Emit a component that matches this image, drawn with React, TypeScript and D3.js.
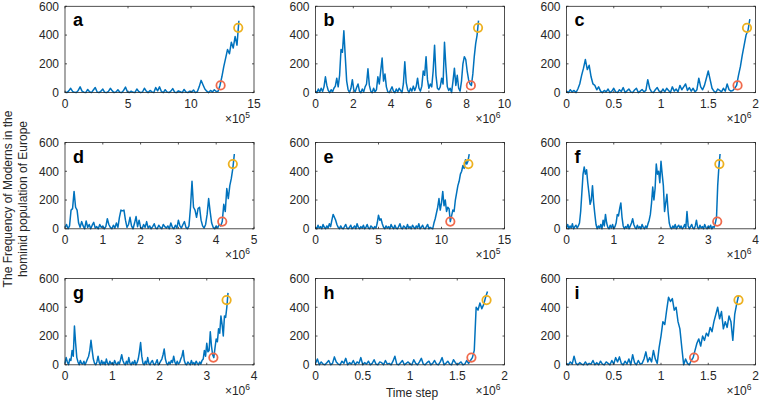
import React from "react";
import * as d3 from "d3";

const panelLetters = ["a", "b", "c", "d", "e", "f", "g", "h", "i"];
const xMaxes = [15, 10, 2, 5, 15, 4, 4, 2, 2];
const xTicks = [
  [0, 5, 10, 15],
  [0, 2, 4, 6, 8, 10],
  [0, 0.5, 1, 1.5, 2],
  [0, 1, 2, 3, 4, 5],
  [0, 5, 10, 15],
  [0, 1, 2, 3, 4],
  [0, 1, 2, 3, 4],
  [0, 0.5, 1, 1.5, 2],
  [0, 0.5, 1, 1.5, 2],
];
const exponents = [5, 6, 6, 6, 5, 6, 6, 6, 6];
const yTicks = [0, 200, 400, 600];
// time spacing between successive samples (in axis units)
const steps = [0.15, 0.075, 0.02, 0.04, 0.1, 0.025, 0.025, 0.02, 0.02];
const redX = [12.35, 8.22, 1.81, 4.16, 10.7, 3.19, 3.14, 1.65, 1.35];
const redY = 50;
const yellowX = [13.75, 8.6, 1.91, 4.44, 12.13, 3.235, 3.42, 1.81, 1.82];
const yellowY = 450;

const seriesA = [
  5, 0, 12, 30, 8, 2, 0, 15, 40, 10,
  3, 0, 22, 6, 0, 18, 35, 4, 0, 10,
  25, 2, 0, 8, 30, 12, 0, 5, 20, 3,
  0, 15, 38, 6, 0, 10, 2, 0, 25, 8,
  0, 4, 30, 10, 0, 15, 5, 0, 35, 12,
  40, 8, 0, 20, 5, 0, 10, 28, 3, 0,
  12, 6, 0, 22, 4, 0, 10, 2, 18, 0,
  6, 40, 85, 55, 25, 10, 0, 15, 5, 20,
  8, 10, 50, 110, 180, 240, 300, 270, 350, 310,
  390, 330, 500,
];
const seriesB = [
  10, 0, 25, 5, 30, 8, 40, 110, 50, 15,
  0, 20, 5, 30, 45, 100, 40, 120, 300, 280,
  430, 250, 80, 20, 0, 30, 90, 20, 5, 35,
  60, 10, 0, 25, 5, 40, 60, 165, 50, 10,
  0, 30, 5, 20, 110, 60, 150, 240, 80, 130,
  40, 5, 0, 20, 40, 10, 0, 25, 5, 30,
  15, 0, 60, 215, 70, 20, 0, 30, 10, 45,
  15, 40, 100, 30, 10, 45, 150, 120, 250, 90,
  30, 60, 40, 150, 330, 120, 30, 20, 40, 100,
  60, 350, 180, 40, 15, 30, 0, 80, 170, 50,
  120, 30, 10, 80, 200, 250, 230, 150, 90, 60,
  50, 130, 250, 340, 400, 500,
];
const seriesC = [
  10, 0, 20, 5, 15, 0, 25, 60, 120, 170,
  230, 160, 190, 110, 60, 50, 20, 40, 10, 0,
  15, 5, 25, 0, 10, 30, 5, 0, 20, 8,
  35, 0, 12, 25, 5, 0, 18, 30, 0, 10,
  22, 5, 15, 90, 30, 5, 0, 20, 35, 10,
  0, 25, 5, 30, 15, 0, 40, 10, 25, 5,
  50, 20, 40, 60, 15, 35, 10, 30, 5, 20,
  100, 40, 20, 50, 100, 150, 90, 30, 10, 0,
  25, 15, 5, 30, 10, 60, 20, 10, 15, 30,
  50, 120, 180, 260, 330, 400, 430, 510,
];
const seriesD = [
  10, 30, 0, 20, 130, 140, 260, 150, 130, 40,
  10, 50, 20, 0, 55, 10, 30, 0, 25, 45,
  5, 15, 0, 30, 10, 20, 0, 15, 70, 30,
  10, 0, 25, 5, 40, 10, 80, 130, 125, 130,
  60, 10, 30, 80, 20, 0, 40, 85, 15, 60,
  10, 0, 30, 10, 50, 5, 20, 0, 15, 35,
  5, 0, 25, 10, 0, 30, 15, 5, 20, 0,
  40, 10, 0, 25, 5, 60, 20, 5, 30, 50,
  10, 0, 20, 150, 330, 150, 130, 80, 140, 150,
  60, 20, 5, 30, 100, 210, 120, 40, 10, 0,
  20, 5, 30, 20, 50, 170, 120, 280, 210, 300,
  350, 420, 520,
];
const seriesE = [
  10, 0, 25, 5, 15, 0, 30, 10, 0, 20,
  5, 35, 15, 60, 100, 80, 60, 30, 10, 0,
  20, 5, 0, 15, 30, 5, 0, 10, 25, 0,
  8, 20, 0, 35, 10, 0, 15, 5, 25, 0,
  10, 30, 5, 0, 20, 10, 0, 15, 5, 40,
  95, 60, 70, 35, 10, 0, 20, 5, 15, 0,
  30, 10, 0, 25, 5, 0, 15, 35, 5, 0,
  20, 10, 0, 30, 5, 15, 0, 25, 10, 0,
  20, 5, 35, 0, 10, 25, 5, 0, 15, 30,
  0, 10, 5, 0, 40, 70, 110, 150, 210, 130,
  180, 260, 160, 200, 120, 150, 140, 50, 90, 130,
  120, 200, 250, 300, 330, 380, 400, 440, 420, 480,
  450, 470, 520,
];
const seriesF = [
  10, 30, 0, 20, 5, 35, 0, 15, 25, 5,
  20, 40, 120, 250, 380, 430, 380, 410, 320, 250,
  170, 200, 300, 180, 100, 30, 0, 20, 5, 30,
  0, 60, 20, 100, 40, 10, 0, 25, 5, 30,
  0, 15, 40, 100, 90, 140, 180, 80, 20, 0,
  15, 5, 30, 0, 20, 40, 70, 30, 10, 0,
  25, 5, 15, 0, 30, 10, 0, 20, 5, 35,
  60, 100, 180, 290, 200, 280, 450, 380, 400, 320,
  470, 380, 300, 120, 180, 240, 120, 40, 10, 0,
  20, 5, 30, 0, 15, 25, 5, 20, 0, 10,
  30, 5, 120, 20, 0, 15, 30, 5, 0, 20,
  60, 10, 0, 25, 5, 15, 0, 30, 10, 0,
  20, 5, 25, 0, 15, 10, 40, 80, 300, 430,
  520,
];
const seriesG = [
  10, 50, 20, 0, 40, 30, 100, 60, 270, 150,
  50, 20, 0, 30, 10, 5, 25, 0, 20, 40,
  60, 100, 170, 100, 40, 10, 0, 20, 60, 15,
  0, 30, 5, 20, 0, 40, 10, 0, 25, 5,
  15, 0, 30, 10, 0, 20, 5, 35, 70, 30,
  10, 0, 25, 5, 50, 10, 0, 20, 5, 30,
  0, 15, 40, 90, 155, 60, 10, 0, 25, 5,
  50, 10, 0, 20, 30, 5, 0, 15, 35, 0,
  10, 25, 40, 70, 110, 40, 10, 0, 20, 5,
  30, 15, 60, 20, 0, 25, 5, 15, 40, 60,
  100, 30, 5, 0, 20, 10, 0, 30, 5, 15,
  0, 25, 10, 0, 20, 5, 30, 40, 100, 60,
  150, 90, 100, 230, 130, 70, 50, 120, 180, 160,
  250, 220, 340, 280, 200, 340, 330, 400, 500,
];
const seriesH = [
  10, 40, 0, 20, 5, 0, 15, 30, 0, 10,
  55, 20, 5, 0, 25, 10, 45, 0, 15, 5,
  30, 0, 20, 10, 50, 0, 15, 5, 25, 0,
  10, 35, 5, 0, 20, 15, 0, 30, 5, 10,
  0, 25, 60, 5, 0, 15, 30, 0, 10, 20,
  5, 0, 35, 10, 0, 20, 45, 5, 0, 15,
  25, 0, 10, 30, 5, 0, 20, 50, 0, 10,
  25, 5, 0, 35, 15, 0, 10, 20, 0, 5,
  30, 10, 30, 50, 100, 400, 380, 430, 390, 420,
  470, 510,
];
const seriesI = [
  10, 0, 20, 5, 60, 10, 0, 15, 5, 0,
  20, 0, 10, 5, 30, 0, 15, 0, 25, 5,
  0, 20, 10, 0, 30, 5, 50, 20, 55, 10,
  0, 25, 5, 40, 0, 70, 15, 0, 30, 5,
  10, 40, 90, 20, 50, 20, 100, 40, 10, 120,
  200, 300, 280, 380, 470, 440, 460, 380, 400, 300,
  250, 120, 0, 40, 10, 0, 30, 50, 100, 150,
  180, 130, 200, 170, 220, 200, 260, 230, 300, 350,
  400, 320, 370, 250, 300, 260, 340, 300, 170, 350,
  420, 480,
];
const allSeries = [seriesA, seriesB, seriesC, seriesD, seriesE, seriesF, seriesG, seriesH, seriesI];

const W = 761;
const H = 402;
const colLeft = [65, 315.5, 566.5];
const rowTop = [6.3, 142.5, 278.5];
const PW = 189;
const PH = 86.3;
const FONT = "'Liberation Sans', Arial, Helvetica, sans-serif";
const AX = "#262626";
const LINE = "#0072BD";
const RED = "#F06A4C";
const YEL = "#EDB120";

function Panel({ idx }: { idx: number }) {
  const col = idx % 3;
  const row = Math.floor(idx / 3);
  const x0 = colLeft[col];
  const y0 = rowTop[row];
  const x = d3.scaleLinear().domain([0, xMaxes[idx]]).range([x0, x0 + PW]);
  const y = d3.scaleLinear().domain([0, 600]).range([y0 + PH, y0]);
  const data = allSeries[idx];
  const step = steps[idx];
  const line = d3
    .line<number>()
    .x((_, i) => x(i * step))
    .y((v) => y(v));
  const tl = 2;
  return (
    <g>
      <path d={line(data) || ""} fill="none" stroke={LINE} strokeWidth={1.5} strokeLinejoin="round" />
      <circle cx={x(redX[idx])} cy={y(redY)} r={4.2} fill="none" stroke={RED} strokeWidth={1.8} />
      <circle cx={x(yellowX[idx])} cy={y(yellowY)} r={4.2} fill="none" stroke={YEL} strokeWidth={1.8} />
      <rect x={x0} y={y0} width={PW} height={PH} fill="none" stroke={AX} strokeWidth={0.8} />
      {xTicks[idx].map((t) => (
        <g key={"x" + t}>
          <line x1={x(t)} x2={x(t)} y1={y0 + PH} y2={y0 + PH - tl} stroke={AX} strokeWidth={0.8} />
          <line x1={x(t)} x2={x(t)} y1={y0} y2={y0 + tl} stroke={AX} strokeWidth={0.8} />
          <text x={x(t)} y={y0 + PH + 15.5} textAnchor="middle" fontSize={12} fill={AX} fontFamily={FONT}>
            {String(t)}
          </text>
        </g>
      ))}
      {yTicks.map((t) => (
        <g key={"y" + t}>
          <line x1={x0} x2={x0 + tl} y1={y(t)} y2={y(t)} stroke={AX} strokeWidth={0.8} />
          <line x1={x0 + PW} x2={x0 + PW - tl} y1={y(t)} y2={y(t)} stroke={AX} strokeWidth={0.8} />
          <text x={x0 - 6} y={y(t) + 4.3} textAnchor="end" fontSize={12} fill={AX} fontFamily={FONT}>
            {String(t)}
          </text>
        </g>
      ))}
      <text x={x0 + PW - 4} y={y0 + PH + 30} textAnchor="end" fontSize={12} fill={AX} fontFamily={FONT}>
        ×10
        <tspan fontSize={8.5} dy={-4.5}>
          {String(exponents[idx])}
        </tspan>
      </text>
      <text x={x0 + 8} y={y0 + 20} fontSize={18} fontWeight="bold" fill="#000" fontFamily={FONT}>
        {panelLetters[idx]}
      </text>
    </g>
  );
}

export default function App() {
  return (
    <svg
      width={W}
      height={H}
      viewBox={`0 0 ${W} ${H}`}
      style={{ position: "absolute", left: 0, top: 0, background: "#fff" }}
    >
      <rect x={0} y={0} width={W} height={H} fill="#fff" />
      {panelLetters.map((_, i) => (
        <Panel key={i} idx={i} />
      ))}
      <text
        transform="translate(12,199) rotate(-90)"
        textAnchor="middle"
        fontSize={12}
        fill={AX}
        fontFamily={FONT}
      >
        The Frequency of Moderns in the
      </text>
      <text
        transform="translate(27,199) rotate(-90)"
        textAnchor="middle"
        fontSize={12}
        fill={AX}
        fontFamily={FONT}
      >
        hominid population of Europe
      </text>
      <text x={412} y={397} textAnchor="middle" fontSize={12} fill={AX} fontFamily={FONT}>
        Time step
      </text>
    </svg>
  );
}
